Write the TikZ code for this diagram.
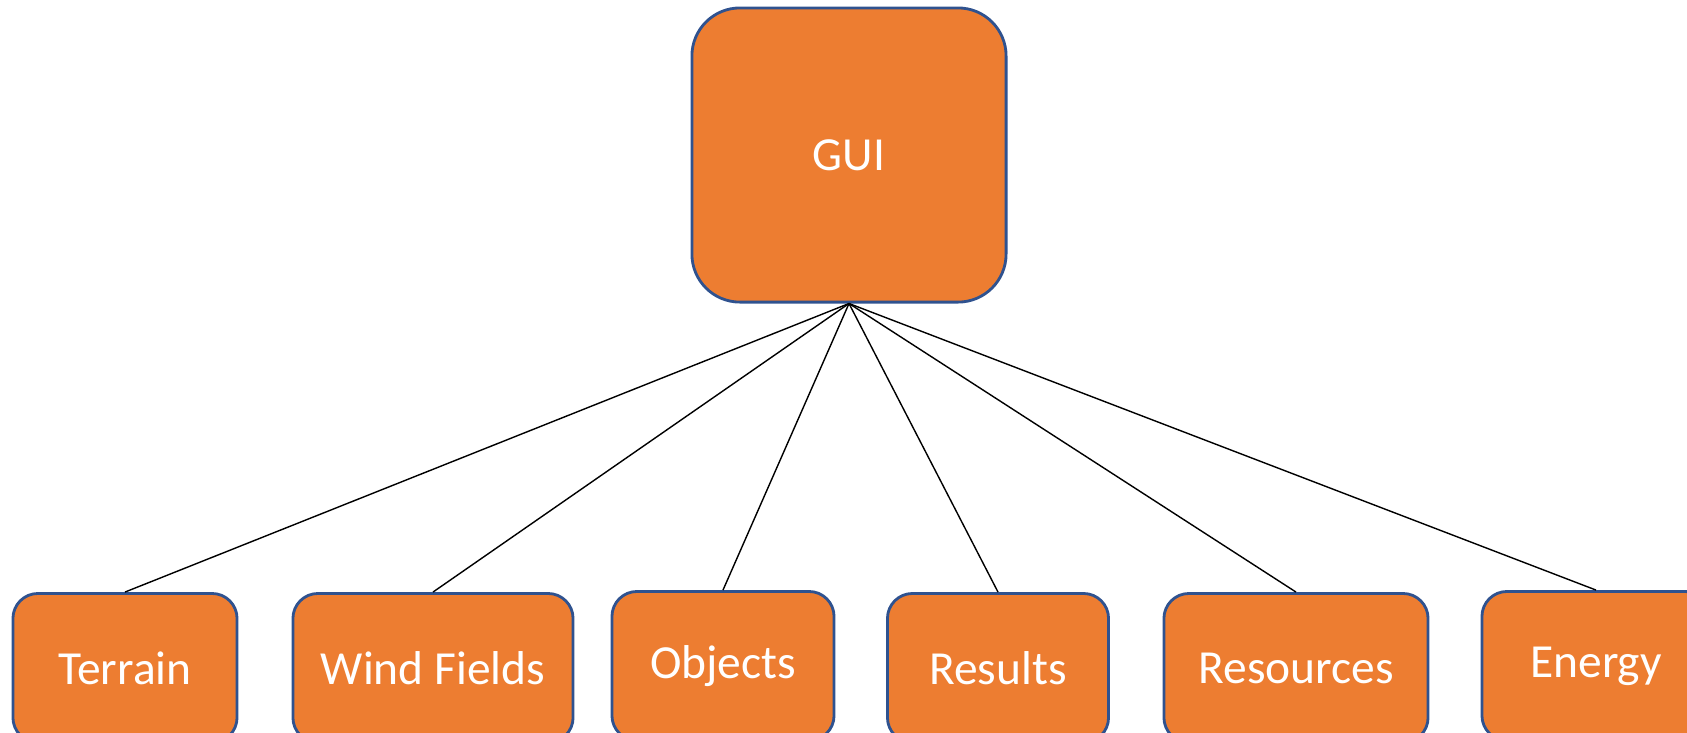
\documentclass[tikz,border=0pt]{standalone}
\usepackage{fontspec}
\setmainfont{Carlito}
\definecolor{boxfill}{HTML}{ED7D31}
\definecolor{boxline}{HTML}{2F528F}
\begin{document}
\begin{tikzpicture}[x=0.01cm, y=-0.01cm,
    module/.style={draw=boxline, line width=0.8pt, fill=boxfill, text=white,
      rounded corners=0.25cm, minimum height=1.49cm, inner sep=0pt,
      font=\fontsize{13.5}{16}\selectfont},
    link/.style={line width=0.4pt}]
  \useasboundingbox (0, 0) rectangle (1687, 732);
  \clip (0, 0) rectangle (1687, 732);
  \node[module, rounded corners=0.48cm, minimum width=3.14cm,
    minimum height=2.94cm] (gui) at (849, 155) {GUI};
  % modules
  \node[module, minimum width=2.24cm] (terrain) at (125, 668) {Terrain};
  \node[module, minimum width=2.80cm] (wind) at (433, 668) {Wind Fields};
  \node[module, minimum width=2.22cm] (objects) at (723, 666) {Objects};
  \node[module, minimum width=2.21cm] (results) at (998, 668) {Results};
  \node[module, minimum width=2.64cm] (resources) at (1296, 668) {Resources};
  \node[module, minimum width=2.28cm] (energy) at (1596, 666) {Energy};
  % links
  \foreach \m in {terrain, wind, objects, results, resources, energy}
    \draw[link] (gui.south) -- (\m.north);
\end{tikzpicture}
\end{document}
